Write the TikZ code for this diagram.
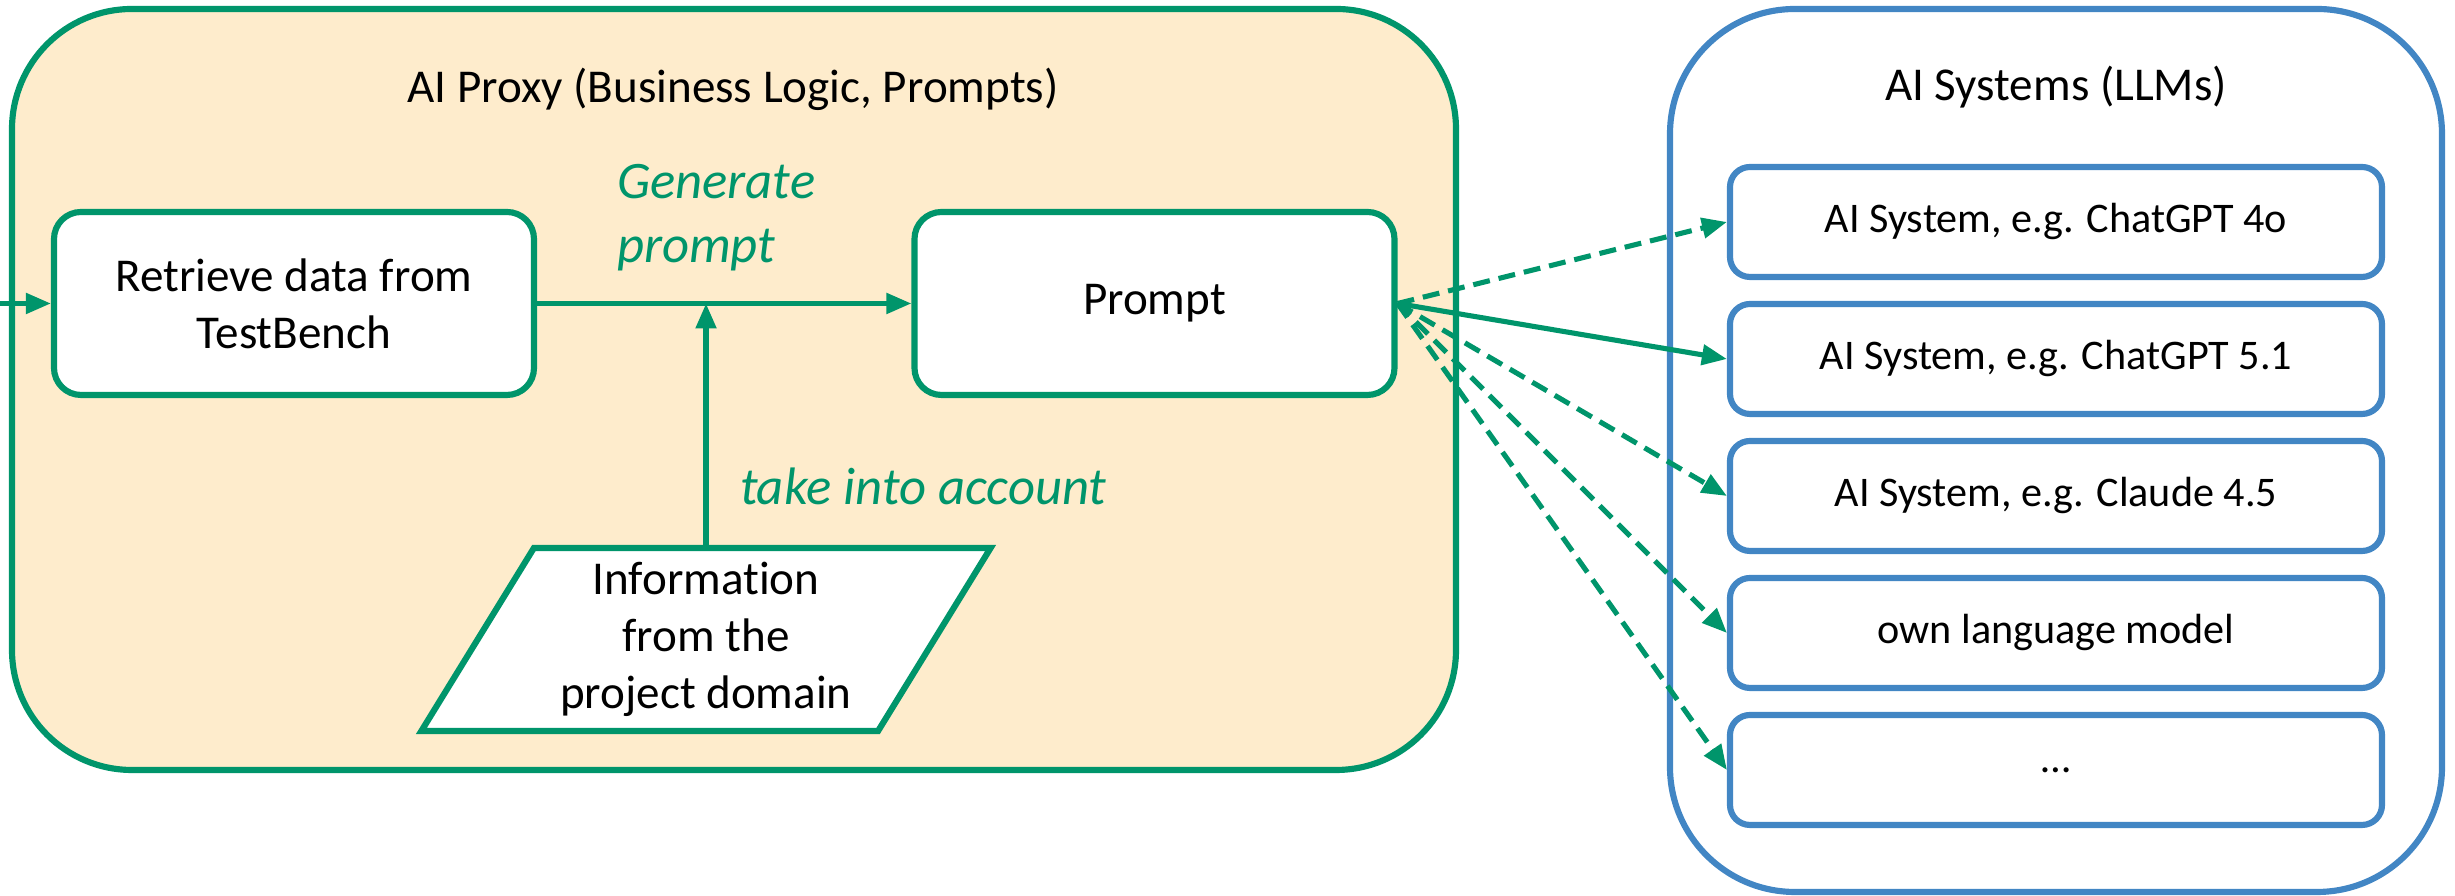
\documentclass[tikz,border=0pt]{standalone}
\usepackage{fontspec}
\setmainfont[Ligatures=NoCommon]{Carlito}
\newcommand*{\boxfont}{\fontsize{13.4}{16.2}\selectfont}
\newcommand*{\llmfont}{\fontsize{12}{14.4}\selectfont}
\newcommand*{\notefont}{\fontsize{15}{18.2}\selectfont\itshape}
\definecolor{pgreen}{RGB}{0,149,107}
\definecolor{lblue}{RGB}{66,134,196}
\definecolor{pfill}{RGB}{254,236,204}
\usetikzlibrary{arrows.meta}
\usetikzlibrary{shapes.geometric}
\tikzstyle{base}=[inner sep=0pt, outer sep=0pt]
\tikzstyle{stepbox}=[draw=pgreen, line width=1.75pt, fill=white, rounded corners=0.27cm, minimum width=4.8cm, minimum height=1.83cm, align=center, font=\boxfont]
\tikzstyle{llmbox}=[draw=lblue, line width=1.75pt, fill=white, rounded corners=0.2cm, minimum width=6.52cm, minimum height=1.1cm, font=\llmfont]
\tikzstyle{flow}=[pgreen, line width=1.45pt, -{Triangle[length=0.25cm,width=0.2cm]}]
\tikzstyle{maybe}=[flow, dash pattern=on 0.17cm off 0.09cm]

\begin{document}
\begin{tikzpicture}
    \useasboundingbox (0,0) rectangle (24.55,8.96);
        % the two containers
        \draw [pgreen, fill=pfill, line width=1.75pt, rounded corners=1.2cm] (0.12,1.26) rectangle (14.56,8.87);
        \draw [lblue, line width=1.75pt, rounded corners=1.25cm] (16.70,0.04) rectangle (24.42,8.87);
        \node [base, font=\boxfont] (ptitle) at (7.33,8.07) {AI Proxy (Business Logic, Prompts)};
        \node [base, font=\boxfont] (ltitle) at (20.56,8.09) {AI Systems (LLMs)};
        % proxy steps
        \node [stepbox] (retrieve) at (2.94,5.925) {Retrieve data from\\TestBench};
        \node [stepbox] (prompt) at (11.545,5.925) {Prompt};
        \node [trapezium, trapezium stretches=true, trapezium left angle=58.3, trapezium right angle=121.7,
               draw=pgreen, line width=1.75pt, fill=white, minimum width=5.7cm, minimum height=1.83cm,
               inner sep=0pt, align=center, font=\boxfont] (info) at (7.06,2.565) {Information\\from the\\project domain};
        % language models
        \foreach \n/\y/\t in {gpt4/6.74/{AI System, e.g. ChatGPT 4o}, gpt5/5.37/{AI System, e.g. ChatGPT 5.1},
                              claude/4.00/{AI System, e.g. Claude 4.5}, own/2.63/{own language model}, more/1.26/{\ldots}}
            \node [llmbox] (\n) at (20.56,\y) {\t};
        % connectors
        \coordinate (entry) at (0,5.925);
        \draw [flow] (entry) -- (retrieve.west);
        \draw [flow] (retrieve.east) -- (prompt.west);
        \coordinate (join) at (info.north |- prompt.west);
        \draw [flow] (info.north) -- (join);
        \draw [flow] (prompt.east) -- (gpt5.west);
        \foreach \n in {gpt4,claude,own,more}
            \draw [maybe] (prompt.east) -- (\n.west);
        \node [base, font=\notefont, text=pgreen, anchor=west, align=left] (gen) at (6.17,6.78) {Generate\\prompt};
        \node [base, font=\notefont, text=pgreen, anchor=base west] (take) at (7.40,3.91) {take into account};
\end{tikzpicture}
\end{document}
